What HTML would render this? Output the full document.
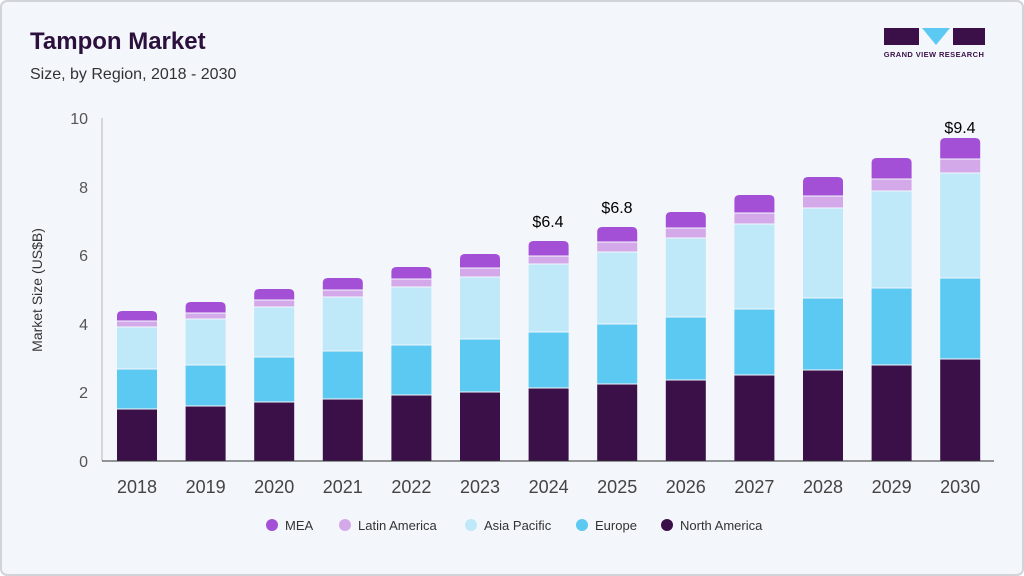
<!DOCTYPE html>
<html><head><meta charset="utf-8"><style>
body{margin:0;background:#fff;}
#c{position:relative;width:1024px;height:576px;overflow:hidden;font-family:"Liberation Sans",sans-serif;}
</style></head><body><div id="c">
<svg width="1024" height="576" xmlns="http://www.w3.org/2000/svg" font-family="Liberation Sans, sans-serif">
<rect x="1" y="1" width="1022" height="574" rx="6" fill="#f3f6fa" stroke="#d0d3d8" stroke-width="2"/>
<text x="30" y="49" font-size="24" font-weight="bold" fill="#2b0f3c">Tampon Market</text>
<text x="30" y="79" font-size="16" fill="#333">Size, by Region, 2018 - 2030</text>
<!-- logo -->
<rect x="884" y="28" width="35" height="17" fill="#3b1049"/>
<polygon points="922,28 950,28 936,45" fill="#5bc9f2"/>
<rect x="953" y="28" width="32" height="17" fill="#3b1049"/>
<text x="934" y="57" font-size="7.5" font-weight="bold" fill="#3b1049" text-anchor="middle" letter-spacing="0.4">GRAND VIEW RESEARCH</text>
<!-- axes -->
<line x1="102" y1="118" x2="102" y2="461" stroke="#ccc" stroke-width="1.5"/>
<line x1="102" y1="461" x2="994" y2="461" stroke="#333" stroke-width="1"/>
<g font-size="16" fill="#555" text-anchor="end">
<text x="88" y="467">0</text><text x="88" y="398">2</text><text x="88" y="330">4</text><text x="88" y="261">6</text><text x="88" y="193">8</text><text x="88" y="124">10</text>
</g>
<text transform="translate(42,290) rotate(-90)" font-size="14" fill="#333" text-anchor="middle">Market Size (US$B)</text>
<g id="bars"></g>
<g font-size="16" fill="#000" text-anchor="middle">
<text x="548" y="227">$6.4</text><text x="617" y="213">$6.8</text><text x="960" y="133">$9.4</text>
</g>
<g font-size="13" fill="#333">
<circle cx="272" cy="525" r="6" fill="#a350d6"/><text x="285" y="530">MEA</text>
<circle cx="345" cy="525" r="6" fill="#d4a9e9"/><text x="358" y="530">Latin America</text>
<circle cx="471" cy="525" r="6" fill="#bfe8f8"/><text x="484" y="530">Asia Pacific</text>
<circle cx="582" cy="525" r="6" fill="#5bc9f2"/><text x="595" y="530">Europe</text>
<circle cx="667" cy="525" r="6" fill="#3b1049"/><text x="680" y="530">North America</text>
</g>
</svg>
<script>
var d=[[409,369,327,321,311],[406,365,319,313,302],[402,357,307,300,289],[399,351,297,290,278],[395,345,287,279,267],[392,339,277,268,254],[388,332,264,256,241],[384,324,252,242,227],[380,317,238,228,212],[375,309,224,213,195],[370,298,208,196,177],[365,288,191,179,158],[359,278,173,159,138]];
var cols=["#3b1049","#5bc9f2","#bfe8f8","#d4a9e9","#a350d6"];
var s="";
for(var i=0;i<13;i++){var cx=137+i*68.6,x=cx-20,prev=461;
for(var j=0;j<5;j++){var t=d[i][j];
if(j==4){s+='<path d="M'+x+' '+(prev-0.5)+'V'+(t+5)+'Q'+x+' '+t+' '+(x+5)+' '+t+'H'+(x+35)+'Q'+(x+40)+' '+t+' '+(x+40)+' '+(t+5)+'V'+(prev-0.5)+'Z" fill="'+cols[j]+'"/>';}
else s+='<rect x="'+x+'" y="'+(t+0.5)+'" width="40" height="'+(prev-t-1)+'" fill="'+cols[j]+'"/>';
prev=t;}
s+='<text x="'+cx+'" y="493" font-size="18" fill="#444" text-anchor="middle">'+(2018+i)+'</text>';}
document.getElementById("bars").innerHTML=s;
</script>
</div></body></html>
